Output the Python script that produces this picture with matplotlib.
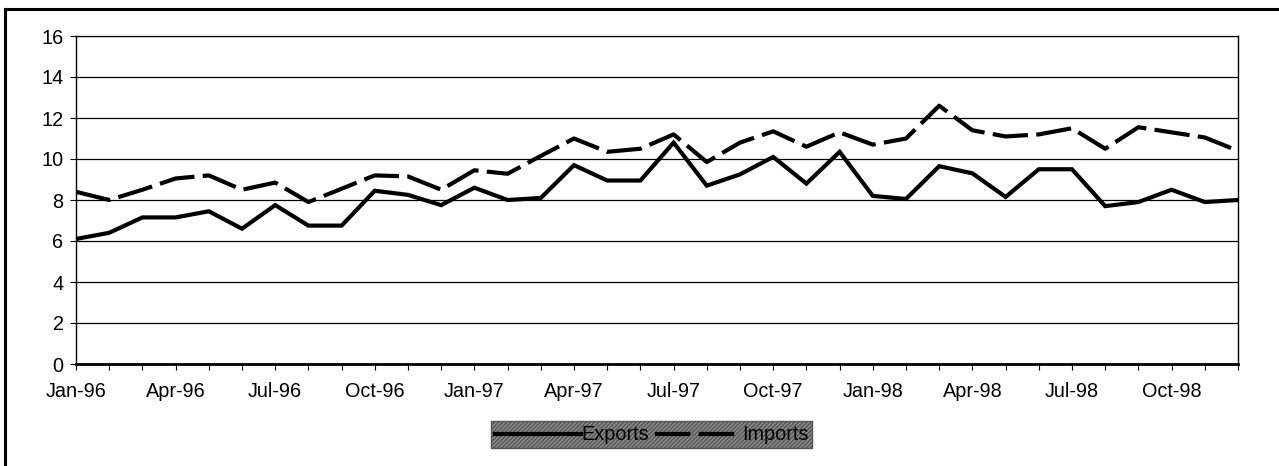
import matplotlib
matplotlib.use("Agg")
import matplotlib.pyplot as plt
from matplotlib.lines import Line2D

plt.rcParams['font.family'] = ['Liberation Sans', 'DejaVu Sans']

# monthly values, Jan-96 .. Dec-98
months = ['Jan-96', 'Feb-96', 'Mar-96', 'Apr-96', 'May-96', 'Jun-96', 'Jul-96', 'Aug-96', 'Sep-96',
          'Oct-96', 'Nov-96', 'Dec-96', 'Jan-97', 'Feb-97', 'Mar-97', 'Apr-97', 'May-97', 'Jun-97',
          'Jul-97', 'Aug-97', 'Sep-97', 'Oct-97', 'Nov-97', 'Dec-97', 'Jan-98', 'Feb-98', 'Mar-98',
          'Apr-98', 'May-98', 'Jun-98', 'Jul-98', 'Aug-98', 'Sep-98', 'Oct-98', 'Nov-98', 'Dec-98']
exports = [6.1, 6.4, 7.15, 7.15, 7.45, 6.6, 7.75, 6.75, 6.75, 8.45, 8.25, 7.75,
           8.6, 8.0, 8.1, 9.7, 8.95, 8.95, 10.8, 8.7, 9.25, 10.1, 8.8, 10.35,
           8.2, 8.05, 9.65, 9.3, 8.15, 9.5, 9.5, 7.7, 7.9, 8.5, 7.9, 8.0]
imports = [8.4, 8.0, 8.5, 9.05, 9.2, 8.5, 8.85, 7.9, 8.55, 9.2, 9.15, 8.5,
           9.45, 9.28, 10.15, 11.0, 10.35, 10.5, 11.2, 9.85, 10.8, 11.35, 10.6, 11.3,
           10.7, 11.0, 12.6, 11.4, 11.1, 11.2, 11.5, 10.5, 11.55, 11.3, 11.05, 10.4]
yticks = [0, 2, 4, 6, 8, 10, 12, 14, 16]

fs = 14.3
fig = plt.figure(figsize=(12.79, 4.66), dpi=100)
ax = fig.add_axes([76 / 1279, 1 - 364 / 466, (1238 - 76) / 1279, (364 - 36) / 466])

x = list(range(len(months)))
ax.plot(x, exports, color='black', lw=3.0, solid_joinstyle='miter', label='Exports')
ax.plot(x, imports, color='black', lw=3.0, dashes=(8.5, 2), label='Imports')

ax.set_xlim(0, len(months) - 1)
ax.set_ylim(0, 16)
ax.set_yticks(yticks)
ax.set_yticklabels([str(v) for v in yticks], fontsize=fs)
ax.set_xticks(x[::3])
ax.set_xticklabels(months[::3], fontsize=fs)
ax.set_xticks(x, minor=True)
ax.tick_params(axis='x', which='both', length=4, width=0.8, pad=9)
ax.tick_params(axis='y', length=4, width=0.8, pad=5)
ax.grid(axis='y', color='black', lw=0.9)

for side in ['left', 'right']:
    ax.spines[side].set_linestyle((0, (1, 1)))
    ax.spines[side].set_linewidth(1)
ax.spines['top'].set_linewidth(0.9)
ax.spines['bottom'].set_linewidth(2)

leg = ax.legend(loc='upper center', bbox_to_anchor=(0.4955, -0.145), ncol=2, fontsize=fs,
                handlelength=4.3, columnspacing=0.3, handletextpad=0.05, borderpad=0.2,
                fancybox=False, frameon=True)
frame = leg.get_frame()
frame.set_facecolor('#8a8a8a')
frame.set_edgecolor('#555555')
frame.set_alpha(1)
frame.set_hatch('////////')

# outer chart border (left and top edges visible)
fig.add_artist(Line2D([5 / 1279, 5 / 1279], [0, 1 - 9 / 466], color='black', lw=2.2,
                      transform=fig.transFigure))
fig.add_artist(Line2D([5 / 1279, 1], [1 - 9 / 466, 1 - 9 / 466], color='black', lw=2.2,
                      transform=fig.transFigure))

plt.savefig('out.png', dpi=100)
